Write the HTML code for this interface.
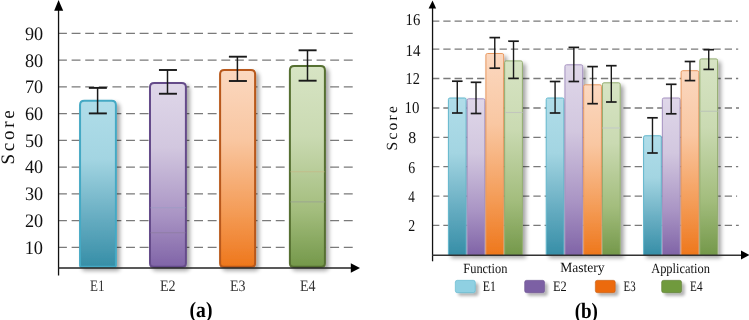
<!DOCTYPE html><html><head><meta charset="utf-8"><style>html,body{margin:0;padding:0;background:#fff;overflow:hidden}svg{display:block;will-change:transform}text{font-family:"Liberation Serif",serif;text-rendering:geometricPrecision}</style></head><body>
<svg width="749" height="320" viewBox="0 0 749 320">
<defs>
<linearGradient id="gE1" x1="0" y1="0" x2="0" y2="1"><stop offset="0" stop-color="#b0dde9"/><stop offset="0.35" stop-color="#a3d5e2"/><stop offset="0.72" stop-color="#64abc0"/><stop offset="1" stop-color="#368ea7"/></linearGradient>
<linearGradient id="gE2" x1="0" y1="0" x2="0" y2="1"><stop offset="0" stop-color="#dfd7e9"/><stop offset="0.35" stop-color="#d2c7df"/><stop offset="0.72" stop-color="#a994c4"/><stop offset="1" stop-color="#8064a7"/></linearGradient>
<linearGradient id="gE3" x1="0" y1="0" x2="0" y2="1"><stop offset="0" stop-color="#fbd8c0"/><stop offset="0.35" stop-color="#f9c7a2"/><stop offset="0.72" stop-color="#f49c57"/><stop offset="1" stop-color="#ee771c"/></linearGradient>
<linearGradient id="gE4" x1="0" y1="0" x2="0" y2="1"><stop offset="0" stop-color="#d7e4c4"/><stop offset="0.35" stop-color="#cadab2"/><stop offset="0.72" stop-color="#a3bd7d"/><stop offset="1" stop-color="#74984a"/></linearGradient>
<filter id="sh" x="-60%" y="-10%" width="220%" height="130%"><feGaussianBlur in="SourceAlpha" stdDeviation="2.0"/><feOffset dx="2.6" dy="3.2" result="o"/><feComponentTransfer><feFuncA type="linear" slope="0.36"/></feComponentTransfer><feMerge><feMergeNode/><feMergeNode in="SourceGraphic"/></feMerge></filter>
<filter id="sh2" x="-30%" y="-30%" width="170%" height="180%"><feGaussianBlur in="SourceAlpha" stdDeviation="1.6"/><feOffset dx="2.5" dy="3" result="o"/><feComponentTransfer><feFuncA type="linear" slope="0.3"/></feComponentTransfer><feMerge><feMergeNode/><feMergeNode in="SourceGraphic"/></feMerge></filter>
</defs>
<line x1="58.0" y1="247.44" x2="352.8" y2="247.44" stroke="#7a7a7a" stroke-width="1.3" stroke-dasharray="8.9 4.71"/>
<line x1="58.0" y1="220.68" x2="352.8" y2="220.68" stroke="#7a7a7a" stroke-width="1.3" stroke-dasharray="8.9 4.71"/>
<line x1="58.0" y1="193.92" x2="352.8" y2="193.92" stroke="#7a7a7a" stroke-width="1.3" stroke-dasharray="8.9 4.71"/>
<line x1="58.0" y1="167.16" x2="352.8" y2="167.16" stroke="#7a7a7a" stroke-width="1.3" stroke-dasharray="8.9 4.71"/>
<line x1="58.0" y1="140.40" x2="352.8" y2="140.40" stroke="#7a7a7a" stroke-width="1.3" stroke-dasharray="8.9 4.71"/>
<line x1="58.0" y1="113.64" x2="352.8" y2="113.64" stroke="#7a7a7a" stroke-width="1.3" stroke-dasharray="8.9 4.71"/>
<line x1="58.0" y1="86.88" x2="352.8" y2="86.88" stroke="#7a7a7a" stroke-width="1.3" stroke-dasharray="8.9 4.71"/>
<line x1="58.0" y1="60.12" x2="352.8" y2="60.12" stroke="#7a7a7a" stroke-width="1.3" stroke-dasharray="8.9 4.71"/>
<line x1="58.0" y1="33.36" x2="352.8" y2="33.36" stroke="#7a7a7a" stroke-width="1.3" stroke-dasharray="8.9 4.71"/>
<path d="M84.25,100.80 H111.70 Q115.90,100.80 115.90,105.00 V265.30 Q115.90,266.80 114.40,266.80 H81.55 Q80.05,266.80 80.05,265.30 V105.00 Q80.05,100.80 84.25,100.80 Z" fill="url(#gE1)" stroke="#45a9c4" stroke-width="2" filter="url(#sh)"/>
<path d="M154.20,82.90 H181.70 Q185.90,82.90 185.90,87.10 V263.30 Q185.90,266.80 182.40,266.80 H153.50 Q150.00,266.80 150.00,263.30 V87.10 Q150.00,82.90 154.20,82.90 Z" fill="url(#gE2)" stroke="#654c8a" stroke-width="2" filter="url(#sh)"/>
<path d="M224.30,69.90 H250.90 Q255.10,69.90 255.10,74.10 V263.30 Q255.10,266.80 251.60,266.80 H223.60 Q220.10,266.80 220.10,263.30 V74.10 Q220.10,69.90 224.30,69.90 Z" fill="url(#gE3)" stroke="#b8581a" stroke-width="2" filter="url(#sh)"/>
<path d="M294.10,66.10 H320.70 Q324.90,66.10 324.90,70.30 V263.30 Q324.90,266.80 321.40,266.80 H293.40 Q289.90,266.80 289.90,263.30 V70.30 Q289.90,66.10 294.10,66.10 Z" fill="url(#gE4)" stroke="#566f30" stroke-width="2" filter="url(#sh)"/>
<line x1="150.5" y1="207.8" x2="185.5" y2="207.8" stroke="#9c9cc4" stroke-width="1.1" stroke-opacity="0.8"/>
<line x1="150.5" y1="232.8" x2="185.5" y2="232.8" stroke="#8d7ca0" stroke-width="1.1" stroke-opacity="0.8"/>
<line x1="290.5" y1="171.7" x2="324.5" y2="171.7" stroke="#c4ba88" stroke-width="1.1" stroke-opacity="0.8"/>
<line x1="290.5" y1="201.9" x2="324.5" y2="201.9" stroke="#9ba690" stroke-width="1.1" stroke-opacity="0.8"/>
<line x1="97.60" y1="87.90" x2="97.60" y2="113.40" stroke="#1a1a1a" stroke-width="1.5"/>
<line x1="88.85" y1="87.90" x2="106.85" y2="87.90" stroke="#1a1a1a" stroke-width="1.9"/>
<line x1="88.85" y1="113.40" x2="106.85" y2="113.40" stroke="#1a1a1a" stroke-width="1.9"/>
<line x1="167.50" y1="70.00" x2="167.50" y2="93.75" stroke="#1a1a1a" stroke-width="1.5"/>
<line x1="158.95" y1="70.00" x2="176.95" y2="70.00" stroke="#1a1a1a" stroke-width="1.9"/>
<line x1="158.95" y1="93.75" x2="176.95" y2="93.75" stroke="#1a1a1a" stroke-width="1.9"/>
<line x1="237.40" y1="56.70" x2="237.40" y2="81.00" stroke="#1a1a1a" stroke-width="1.5"/>
<line x1="228.90" y1="56.70" x2="246.90" y2="56.70" stroke="#1a1a1a" stroke-width="1.9"/>
<line x1="228.90" y1="81.00" x2="246.90" y2="81.00" stroke="#1a1a1a" stroke-width="1.9"/>
<line x1="307.50" y1="50.30" x2="307.50" y2="80.70" stroke="#1a1a1a" stroke-width="1.5"/>
<line x1="298.60" y1="50.30" x2="316.60" y2="50.30" stroke="#1a1a1a" stroke-width="1.9"/>
<line x1="298.60" y1="80.70" x2="316.60" y2="80.70" stroke="#1a1a1a" stroke-width="1.9"/>
<line x1="58.55" y1="9" x2="58.55" y2="275.5" stroke="#111" stroke-width="1.3"/>
<polygon points="54.2,10.8 63.2,10.8 58.55,0" fill="#000"/>
<line x1="58" y1="268" x2="352" y2="268" stroke="#222" stroke-width="1.6"/>
<polygon points="350.8,263.3 350.8,272.8 360,268" fill="#000"/>
<line x1="432.05" y1="225.40" x2="738.8" y2="225.40" stroke="#7a7a7a" stroke-width="1.3" stroke-dasharray="7.3 3.956"/>
<line x1="432.05" y1="196.10" x2="737.1" y2="196.10" stroke="#7a7a7a" stroke-width="1.3" stroke-dasharray="7.3 3.956"/>
<line x1="432.05" y1="166.65" x2="738.2" y2="166.65" stroke="#7a7a7a" stroke-width="1.3" stroke-dasharray="7.3 3.956"/>
<line x1="432.05" y1="137.35" x2="738.2" y2="137.35" stroke="#7a7a7a" stroke-width="1.3" stroke-dasharray="7.3 3.956"/>
<line x1="432.05" y1="108.00" x2="739.0" y2="108.00" stroke="#7a7a7a" stroke-width="1.3" stroke-dasharray="7.3 3.956"/>
<line x1="432.05" y1="78.50" x2="738.2" y2="78.50" stroke="#7a7a7a" stroke-width="1.3" stroke-dasharray="7.3 3.956"/>
<line x1="432.05" y1="49.10" x2="738.2" y2="49.10" stroke="#7a7a7a" stroke-width="1.3" stroke-dasharray="7.3 3.956"/>
<line x1="432.05" y1="21.20" x2="737.8" y2="21.20" stroke="#7a7a7a" stroke-width="1.3" stroke-dasharray="7.3 3.956"/>
<path d="M448.40,255 V99.50 Q448.40,98.00 449.90,98.00 H464.65 Q466.15,98.00 466.15,99.50 V255" fill="url(#gE1)" stroke="#62b7cd" stroke-width="1" filter="url(#sh)"/>
<path d="M467.15,255 V100.30 Q467.15,98.80 468.65,98.80 H483.40 Q484.90,98.80 484.90,100.30 V255" fill="url(#gE2)" stroke="#a592c0" stroke-width="1" filter="url(#sh)"/>
<path d="M485.90,255 V55.00 Q485.90,53.50 487.40,53.50 H502.15 Q503.65,53.50 503.65,55.00 V255" fill="url(#gE3)" stroke="#e99a62" stroke-width="1" filter="url(#sh)"/>
<path d="M504.65,255 V62.40 Q504.65,60.90 506.15,60.90 H520.90 Q522.40,60.90 522.40,62.40 V255" fill="url(#gE4)" stroke="#93ad70" stroke-width="1" filter="url(#sh)"/>
<path d="M546.20,255 V99.50 Q546.20,98.00 547.70,98.00 H562.45 Q563.95,98.00 563.95,99.50 V255" fill="url(#gE1)" stroke="#62b7cd" stroke-width="1" filter="url(#sh)"/>
<path d="M564.95,255 V66.30 Q564.95,64.80 566.45,64.80 H581.20 Q582.70,64.80 582.70,66.30 V255" fill="url(#gE2)" stroke="#a592c0" stroke-width="1" filter="url(#sh)"/>
<path d="M583.70,255 V86.30 Q583.70,84.80 585.20,84.80 H599.95 Q601.45,84.80 601.45,86.30 V255" fill="url(#gE3)" stroke="#e99a62" stroke-width="1" filter="url(#sh)"/>
<path d="M602.45,255 V84.30 Q602.45,82.80 603.95,82.80 H618.70 Q620.20,82.80 620.20,84.30 V255" fill="url(#gE4)" stroke="#93ad70" stroke-width="1" filter="url(#sh)"/>
<path d="M643.60,255 V137.25 Q643.60,135.75 645.10,135.75 H659.85 Q661.35,135.75 661.35,137.25 V255" fill="url(#gE1)" stroke="#62b7cd" stroke-width="1" filter="url(#sh)"/>
<path d="M662.35,255 V99.50 Q662.35,98.00 663.85,98.00 H678.60 Q680.10,98.00 680.10,99.50 V255" fill="url(#gE2)" stroke="#a592c0" stroke-width="1" filter="url(#sh)"/>
<path d="M681.10,255 V72.20 Q681.10,70.70 682.60,70.70 H697.35 Q698.85,70.70 698.85,72.20 V255" fill="url(#gE3)" stroke="#e99a62" stroke-width="1" filter="url(#sh)"/>
<path d="M699.85,255 V60.40 Q699.85,58.90 701.35,58.90 H716.10 Q717.60,58.90 717.60,60.40 V255" fill="url(#gE4)" stroke="#93ad70" stroke-width="1" filter="url(#sh)"/>
<line x1="505" y1="112.5" x2="522.5" y2="112.5" stroke="#c2c6bc" stroke-width="1.1"/>
<line x1="602.5" y1="128" x2="620" y2="128" stroke="#c4cac6" stroke-width="1.1"/>
<line x1="700" y1="111.25" x2="717.5" y2="111.25" stroke="#bcc6b8" stroke-width="1.1"/>
<line x1="457.27" y1="81.20" x2="457.27" y2="113.00" stroke="#1a1a1a" stroke-width="1.4"/>
<line x1="451.97" y1="81.20" x2="462.57" y2="81.20" stroke="#1a1a1a" stroke-width="1.7"/>
<line x1="451.97" y1="113.00" x2="462.57" y2="113.00" stroke="#1a1a1a" stroke-width="1.7"/>
<line x1="476.02" y1="82.30" x2="476.02" y2="113.50" stroke="#1a1a1a" stroke-width="1.4"/>
<line x1="470.72" y1="82.30" x2="481.32" y2="82.30" stroke="#1a1a1a" stroke-width="1.7"/>
<line x1="470.72" y1="113.50" x2="481.32" y2="113.50" stroke="#1a1a1a" stroke-width="1.7"/>
<line x1="494.77" y1="37.60" x2="494.77" y2="68.20" stroke="#1a1a1a" stroke-width="1.4"/>
<line x1="489.47" y1="37.60" x2="500.07" y2="37.60" stroke="#1a1a1a" stroke-width="1.7"/>
<line x1="489.47" y1="68.20" x2="500.07" y2="68.20" stroke="#1a1a1a" stroke-width="1.7"/>
<line x1="513.52" y1="41.20" x2="513.52" y2="78.40" stroke="#1a1a1a" stroke-width="1.4"/>
<line x1="508.22" y1="41.20" x2="518.82" y2="41.20" stroke="#1a1a1a" stroke-width="1.7"/>
<line x1="508.22" y1="78.40" x2="518.82" y2="78.40" stroke="#1a1a1a" stroke-width="1.7"/>
<line x1="555.08" y1="81.50" x2="555.08" y2="113.00" stroke="#1a1a1a" stroke-width="1.4"/>
<line x1="549.78" y1="81.50" x2="560.38" y2="81.50" stroke="#1a1a1a" stroke-width="1.7"/>
<line x1="549.78" y1="113.00" x2="560.38" y2="113.00" stroke="#1a1a1a" stroke-width="1.7"/>
<line x1="573.83" y1="47.40" x2="573.83" y2="81.50" stroke="#1a1a1a" stroke-width="1.4"/>
<line x1="568.53" y1="47.40" x2="579.12" y2="47.40" stroke="#1a1a1a" stroke-width="1.7"/>
<line x1="568.53" y1="81.50" x2="579.12" y2="81.50" stroke="#1a1a1a" stroke-width="1.7"/>
<line x1="592.58" y1="66.60" x2="592.58" y2="103.70" stroke="#1a1a1a" stroke-width="1.4"/>
<line x1="587.28" y1="66.60" x2="597.88" y2="66.60" stroke="#1a1a1a" stroke-width="1.7"/>
<line x1="587.28" y1="103.70" x2="597.88" y2="103.70" stroke="#1a1a1a" stroke-width="1.7"/>
<line x1="611.33" y1="65.70" x2="611.33" y2="102.00" stroke="#1a1a1a" stroke-width="1.4"/>
<line x1="606.03" y1="65.70" x2="616.62" y2="65.70" stroke="#1a1a1a" stroke-width="1.7"/>
<line x1="606.03" y1="102.00" x2="616.62" y2="102.00" stroke="#1a1a1a" stroke-width="1.7"/>
<line x1="652.48" y1="117.80" x2="652.48" y2="153.00" stroke="#1a1a1a" stroke-width="1.4"/>
<line x1="647.18" y1="117.80" x2="657.77" y2="117.80" stroke="#1a1a1a" stroke-width="1.7"/>
<line x1="647.18" y1="153.00" x2="657.77" y2="153.00" stroke="#1a1a1a" stroke-width="1.7"/>
<line x1="671.23" y1="84.30" x2="671.23" y2="113.80" stroke="#1a1a1a" stroke-width="1.4"/>
<line x1="665.93" y1="84.30" x2="676.52" y2="84.30" stroke="#1a1a1a" stroke-width="1.7"/>
<line x1="665.93" y1="113.80" x2="676.52" y2="113.80" stroke="#1a1a1a" stroke-width="1.7"/>
<line x1="689.98" y1="61.50" x2="689.98" y2="80.60" stroke="#1a1a1a" stroke-width="1.4"/>
<line x1="684.68" y1="61.50" x2="695.27" y2="61.50" stroke="#1a1a1a" stroke-width="1.7"/>
<line x1="684.68" y1="80.60" x2="695.27" y2="80.60" stroke="#1a1a1a" stroke-width="1.7"/>
<line x1="708.73" y1="49.70" x2="708.73" y2="69.40" stroke="#1a1a1a" stroke-width="1.4"/>
<line x1="703.43" y1="49.70" x2="714.02" y2="49.70" stroke="#1a1a1a" stroke-width="1.7"/>
<line x1="703.43" y1="69.40" x2="714.02" y2="69.40" stroke="#1a1a1a" stroke-width="1.7"/>
<line x1="432.55" y1="8" x2="432.55" y2="261.3" stroke="#111" stroke-width="1.3"/>
<polygon points="428.6,8.6 436.1,8.6 432.55,0.5" fill="#000"/>
<line x1="432" y1="255.2" x2="742" y2="255.2" stroke="#333" stroke-width="1.4"/>
<polygon points="741,250.5 741,259.5 749.5,255" fill="#000"/>
<rect x="455.30" y="280.3" width="20" height="12.4" rx="2" fill="#8fd0e2" stroke="#45a9c4" stroke-width="0.6" stroke-opacity="0.8" filter="url(#sh2)"/>
<rect x="524.60" y="280.3" width="20" height="12.4" rx="2" fill="#7c60a4" stroke="#654c8a" stroke-width="0.6" stroke-opacity="0.8" filter="url(#sh2)"/>
<rect x="595.30" y="280.3" width="20" height="12.4" rx="2" fill="#ec6b10" stroke="#b8581a" stroke-width="0.6" stroke-opacity="0.8" filter="url(#sh2)"/>
<rect x="661.60" y="280.3" width="20" height="12.4" rx="2" fill="#709a3c" stroke="#566f30" stroke-width="0.6" stroke-opacity="0.8" filter="url(#sh2)"/>
<text x="33.85" y="253.63" font-size="19" font-weight="normal" fill="#111" text-anchor="middle" textLength="18.37" lengthAdjust="spacingAndGlyphs">10</text>
<text x="34.00" y="227.19" font-size="19" font-weight="normal" fill="#111" text-anchor="middle" textLength="18.18" lengthAdjust="spacingAndGlyphs">20</text>
<text x="34.00" y="200.25" font-size="19" font-weight="normal" fill="#111" text-anchor="middle" textLength="18.18" lengthAdjust="spacingAndGlyphs">30</text>
<text x="34.00" y="173.31" font-size="19" font-weight="normal" fill="#111" text-anchor="middle" textLength="18.18" lengthAdjust="spacingAndGlyphs">40</text>
<text x="34.00" y="147.37" font-size="19" font-weight="normal" fill="#111" text-anchor="middle" textLength="18.18" lengthAdjust="spacingAndGlyphs">50</text>
<text x="34.00" y="120.43" font-size="19" font-weight="normal" fill="#111" text-anchor="middle" textLength="18.18" lengthAdjust="spacingAndGlyphs">60</text>
<text x="34.00" y="92.99" font-size="19" font-weight="normal" fill="#111" text-anchor="middle" textLength="18.18" lengthAdjust="spacingAndGlyphs">70</text>
<text x="34.00" y="66.55" font-size="19" font-weight="normal" fill="#111" text-anchor="middle" textLength="18.18" lengthAdjust="spacingAndGlyphs">80</text>
<text x="34.00" y="39.61" font-size="19" font-weight="normal" fill="#111" text-anchor="middle" textLength="18.18" lengthAdjust="spacingAndGlyphs">90</text>
<text x="14.07" y="137.45" font-size="19" font-weight="normal" fill="#111" text-anchor="middle" textLength="54.16" lengthAdjust="spacing" transform="rotate(-90 14.07 137.45)">Score</text>
<text x="97.30" y="291.48" font-size="16" font-weight="normal" fill="#333" text-anchor="middle" textLength="14.49" lengthAdjust="spacingAndGlyphs">E1</text>
<text x="167.85" y="291.48" font-size="16" font-weight="normal" fill="#333" text-anchor="middle" textLength="15.66" lengthAdjust="spacingAndGlyphs">E2</text>
<text x="237.80" y="291.48" font-size="16" font-weight="normal" fill="#333" text-anchor="middle" textLength="15.57" lengthAdjust="spacingAndGlyphs">E3</text>
<text x="307.70" y="291.48" font-size="16" font-weight="normal" fill="#333" text-anchor="middle" textLength="15.57" lengthAdjust="spacingAndGlyphs">E4</text>
<text x="201.00" y="316.51" font-size="22" font-weight="bold" fill="#000" text-anchor="middle" textLength="22.86" lengthAdjust="spacingAndGlyphs">(a)</text>
<text x="412.90" y="25.10" font-size="16.5" font-weight="normal" fill="#111" text-anchor="middle" textLength="14.67" lengthAdjust="spacingAndGlyphs">16</text>
<text x="412.95" y="55.72" font-size="16.5" font-weight="normal" fill="#111" text-anchor="middle" textLength="14.95" lengthAdjust="spacingAndGlyphs">14</text>
<text x="412.75" y="84.44" font-size="16.5" font-weight="normal" fill="#111" text-anchor="middle" textLength="14.32" lengthAdjust="spacingAndGlyphs">12</text>
<text x="412.00" y="113.44" font-size="16.5" font-weight="normal" fill="#111" text-anchor="middle" textLength="14.86" lengthAdjust="spacingAndGlyphs">10</text>
<text x="412.10" y="143.32" font-size="16.5" font-weight="normal" fill="#111" text-anchor="middle" textLength="7.93" lengthAdjust="spacingAndGlyphs">8</text>
<text x="411.60" y="172.55" font-size="16.5" font-weight="normal" fill="#111" text-anchor="middle" textLength="6.93" lengthAdjust="spacingAndGlyphs">6</text>
<text x="411.60" y="201.69" font-size="16.5" font-weight="normal" fill="#111" text-anchor="middle" textLength="6.56" lengthAdjust="spacingAndGlyphs">4</text>
<text x="411.80" y="230.94" font-size="16.5" font-weight="normal" fill="#111" text-anchor="middle" textLength="6.93" lengthAdjust="spacingAndGlyphs">2</text>
<text x="397.31" y="128.25" font-size="15.5" font-weight="normal" fill="#111" text-anchor="middle" textLength="44.37" lengthAdjust="spacing" transform="rotate(-90 397.31 128.25)">Score</text>
<text x="485.35" y="272.87" font-size="14" font-weight="normal" fill="#111" text-anchor="middle" textLength="44.16" lengthAdjust="spacingAndGlyphs">Function</text>
<text x="582.45" y="271.82" font-size="14" font-weight="normal" fill="#111" text-anchor="middle" textLength="44.43" lengthAdjust="spacingAndGlyphs">Mastery</text>
<text x="680.55" y="273.07" font-size="14" font-weight="normal" fill="#111" text-anchor="middle" textLength="58.73" lengthAdjust="spacingAndGlyphs">Application</text>
<text x="489.40" y="290.79" font-size="14.5" font-weight="normal" fill="#111" text-anchor="middle" textLength="13.14" lengthAdjust="spacingAndGlyphs">E1</text>
<text x="559.75" y="290.79" font-size="14.5" font-weight="normal" fill="#111" text-anchor="middle" textLength="13.68" lengthAdjust="spacingAndGlyphs">E2</text>
<text x="629.55" y="290.79" font-size="14.5" font-weight="normal" fill="#111" text-anchor="middle" textLength="12.05" lengthAdjust="spacingAndGlyphs">E3</text>
<text x="696.30" y="290.79" font-size="14.5" font-weight="normal" fill="#111" text-anchor="middle" textLength="12.41" lengthAdjust="spacingAndGlyphs">E4</text>
<text x="586.30" y="317.66" font-size="22" font-weight="bold" fill="#000" text-anchor="middle" textLength="23.31" lengthAdjust="spacingAndGlyphs">(b)</text>
</svg></body></html>
